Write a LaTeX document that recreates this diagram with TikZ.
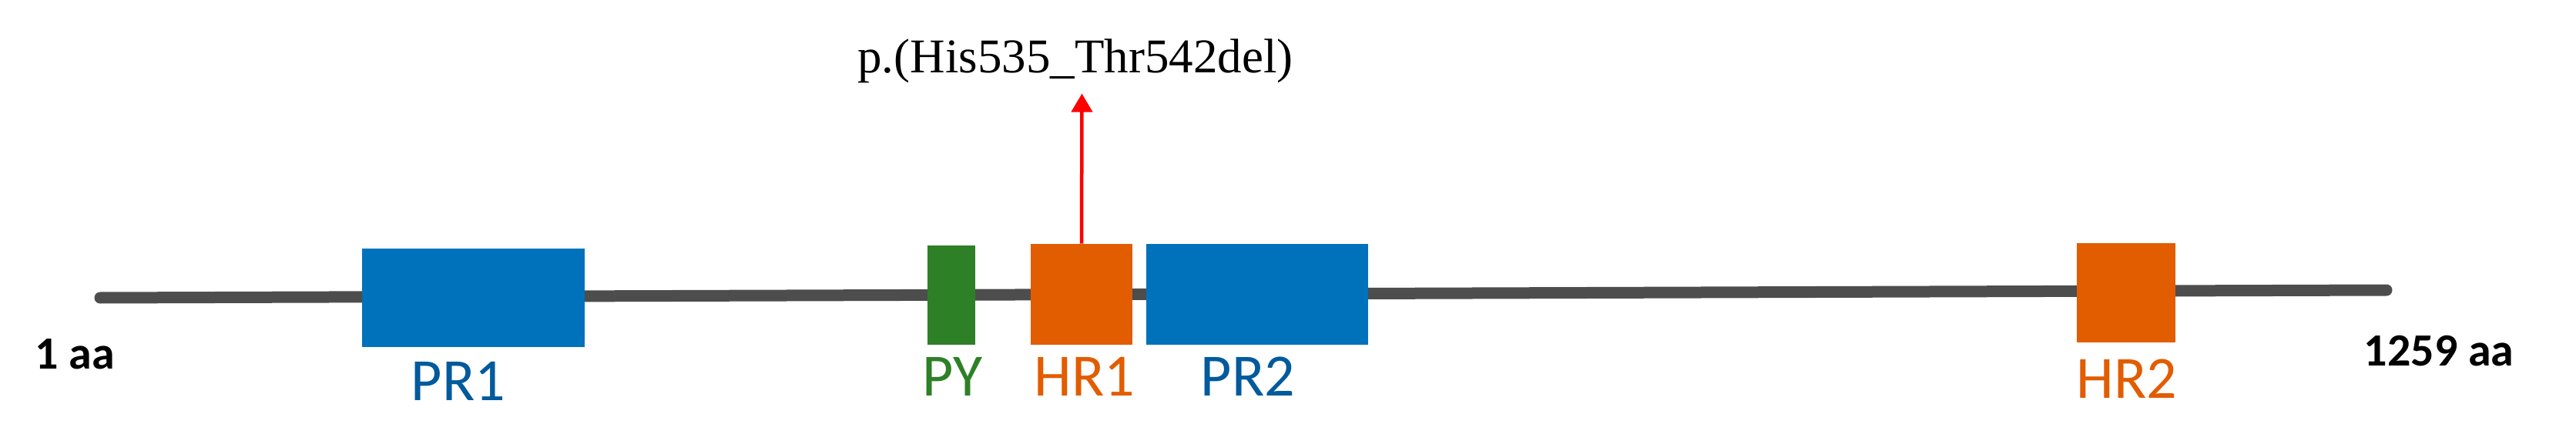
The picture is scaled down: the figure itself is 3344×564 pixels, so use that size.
\documentclass[tikz,border=0pt]{standalone}
\usepackage{fontspec}
\setmainfont{Liberation Serif}
\newfontfamily\calfont{Carlito}
\usetikzlibrary{arrows.meta}
\definecolor{pblue}{RGB}{0,114,188}
\definecolor{lblue}{RGB}{0,90,156}
\definecolor{porange}{RGB}{226,92,0}
\definecolor{pgreen}{RGB}{46,128,38}
\definecolor{pgray}{RGB}{77,77,77}
\begin{document}
\begin{tikzpicture}[x=1pt,y=-1pt,
  dom/.style={inner sep=0pt, outer sep=0pt, draw=none},
  lab/.style={font=\calfont\fontsize{78}{90}\selectfont, inner sep=0pt, anchor=base},
  endlab/.style={font=\calfont\bfseries\fontsize{60}{70}\selectfont, inner sep=0pt, anchor=base},
  mutlab/.style={font=\fontsize{63}{70}\selectfont, inner sep=0pt, anchor=base}]
\useasboundingbox (0,0) rectangle (3344,564);
% backbone
\coordinate (s) at (130,387);
\coordinate (e) at (3098,377);
\draw[pgray, line width=15pt, line cap=round] (s) -- (e);
% domains
\node[dom, fill=pblue, minimum width=289pt, minimum height=128pt] (pr1) at (614.3,386.7) {};
\node[dom, fill=pgreen, minimum width=62pt, minimum height=129pt] (py) at (1235,383.5) {};
\node[dom, fill=porange, minimum width=132pt, minimum height=131.5pt] (hr1) at (1404,382.3) {};
\node[dom, fill=pblue, minimum width=288.5pt, minimum height=131.5pt] (pr2) at (1631.8,382.3) {};
\node[dom, fill=porange, minimum width=128pt, minimum height=129pt] (hr2) at (2760,380.5) {};
% labels
\node[lab, text=lblue] (lpr1) at (595,520) {PR1};
\node[lab, text=pgreen] (lpy) at (1236,514) {PY};
\node[lab, text=porange] (lhr1) at (1408,514) {HR1};
\node[lab, text=lblue] (lpr2) at (1620,514) {PR2};
\node[lab, text=porange] (lhr2) at (2761,517) {HR2};
\node[endlab] (start) at (97,479) {1 aa};
\node[endlab] (end) at (3166,475) {1259 aa};
% mutation
\node[mutlab] (mut) at (1396,95) {p.(His535\_Thr542del)};
\coordinate (tip) at (1404.5,121.6);
\draw[red, line width=4.5pt, -{Triangle[width=27pt,length=24pt]}] (hr1.north) -- (tip);
\end{tikzpicture}
\end{document}
